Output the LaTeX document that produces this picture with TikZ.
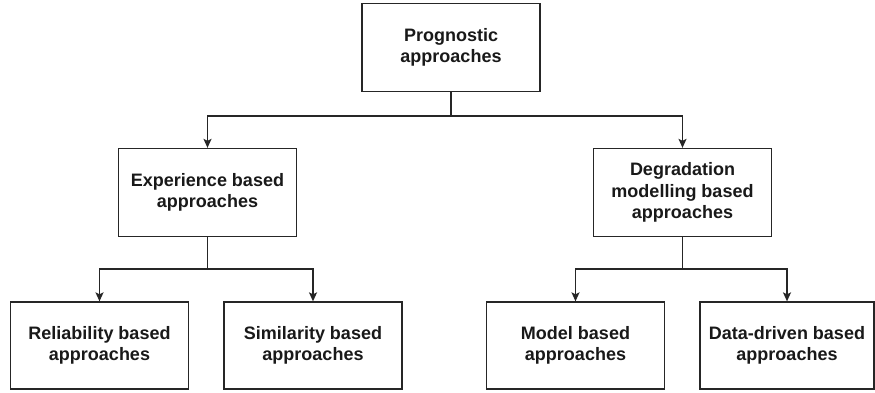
\documentclass[tikz,border=0pt]{standalone}
\usepackage{fontspec}
\setmainfont{Liberation Sans}
\usetikzlibrary{arrows.meta}
\begin{document}
\begin{tikzpicture}[x=1pt,y=-1pt,
  box/.style={draw=black!85, line width=1.3pt, fill=white, minimum width=178pt, minimum height=88pt, inner sep=0pt, align=center, font=\fontsize{18}{21.6}\selectfont\bfseries, text=black!90},
  conn/.style={draw=black!85, line width=1.5pt},
  arr/.style={conn, -{Stealth[length=9pt,width=8pt,inset=2pt]}}]
\useasboundingbox (0,0) rectangle (875,392);
\node[box] (top) at (451,47.5) {Prognostic\\approaches};
\node[box] (exp) at (207.5,192.5) {Experience based\\approaches};
\node[box] (deg) at (682.5,192.5) {Degradation\\modelling based\\approaches};
\node[box, minimum height=87pt] (rel) at (99.5,345.5) {Reliability based\\approaches};
\node[box, minimum height=87pt] (sim) at (313,345.5) {Similarity based\\approaches};
\node[box, minimum height=87pt] (mod) at (575.5,345.5) {Model based\\approaches};
\node[box, minimum height=87pt, minimum width=174pt] (dat) at (787,345.5) {Data-driven based\\approaches};
\coordinate (j1) at (451,116);
\coordinate (j2) at (207.5,269);
\coordinate (j3) at (682.5,269);
\draw[conn] (top.south) -- (j1);
\draw[arr] (j1) -| (exp.north);
\draw[arr] (j1) -| (deg.north);
\draw[conn] (exp.south) -- (j2);
\draw[arr] (j2) -| (rel.north);
\draw[arr] (j2) -| (sim.north);
\draw[conn] (deg.south) -- (j3);
\draw[arr] (j3) -| (mod.north);
\draw[arr] (j3) -| (dat.north);
\end{tikzpicture}
\end{document}
